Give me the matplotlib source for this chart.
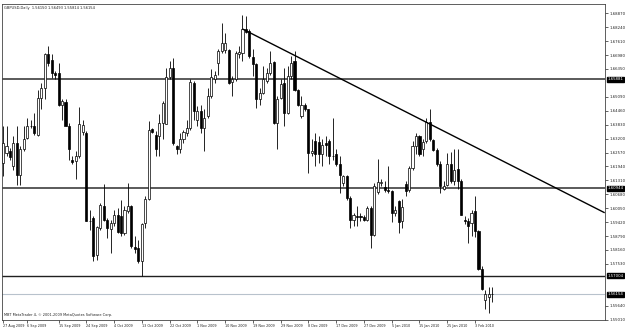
import matplotlib
matplotlib.use("Agg")
import matplotlib.pyplot as plt
import matplotlib.transforms as mtransforms
import numpy as np

# GBPUSD daily candles
opens = [1.6210, 1.6255, 1.6263, 1.6195, 1.6298, 1.6157, 1.6271, 1.6323, 1.6379, 1.6379,
         1.6338, 1.6505, 1.6550, 1.6701, 1.6675, 1.6615, 1.6618, 1.6470, 1.6485, 1.6379,
         1.6222, 1.6218, 1.6240, 1.6349, 1.6346, 1.5949, 1.5961, 1.5795, 1.5916, 1.6017,
         1.5953, 1.5911, 1.5938, 1.5976, 1.5969, 1.5893, 1.5991, 1.6014, 1.5830, 1.5825,
         1.5765, 1.5938, 1.6047, 1.6364, 1.6338, 1.6331, 1.6391, 1.6388, 1.6600, 1.6640,
         1.6286, 1.6274, 1.6319, 1.6346, 1.6369, 1.6573, 1.6406, 1.6444, 1.6369, 1.6422,
         1.6512, 1.6588, 1.6663, 1.6716, 1.6720, 1.6720, 1.6576, 1.6588, 1.6705, 1.6708,
         1.6817, 1.6807, 1.6690, 1.6656, 1.6497, 1.6527, 1.6580, 1.6618, 1.6666, 1.6391,
         1.6505, 1.6573, 1.6434, 1.6603, 1.6671, 1.6539, 1.6422, 1.6474, 1.6452, 1.6255,
         1.6308, 1.6304, 1.6248, 1.6301, 1.6308, 1.6243, 1.6248, 1.6203, 1.6120, 1.6150,
         1.6052, 1.5953, 1.5969, 1.5969, 1.5965, 1.5953, 1.6006, 1.5885, 1.6077, 1.6120,
         1.6101, 1.6089, 1.6082, 1.5984, 1.6036, 1.5946, 1.6116, 1.6086, 1.6187, 1.6286,
         1.6331, 1.6271, 1.6308, 1.6394, 1.6313, 1.6267, 1.6207, 1.6092, 1.6112, 1.6207,
         1.6127, 1.6183, 1.6127, 1.5953, 1.5946, 1.5938, 1.5991, 1.5901, 1.5730, 1.5591,
         1.5603, 1.56150]
highs = [1.6376, 1.6376, 1.6278, 1.6331, 1.6376, 1.6286, 1.6376, 1.6414, 1.6406, 1.6437,
         1.6542, 1.6573, 1.6708, 1.6739, 1.6701, 1.6625, 1.6663, 1.6497, 1.6497, 1.6391,
         1.6240, 1.6263, 1.6464, 1.6406, 1.6354, 1.5999, 1.5969, 1.5923, 1.6029, 1.6116,
         1.5961, 1.5953, 1.5999, 1.6006, 1.6044, 1.6014, 1.6120, 1.6021, 1.5878, 1.5863,
         1.5938, 1.6059, 1.6399, 1.6369, 1.6354, 1.6429, 1.6489, 1.6640, 1.6671, 1.6686,
         1.6293, 1.6346, 1.6361, 1.6406, 1.6588, 1.6580, 1.6467, 1.6474, 1.6452, 1.6550,
         1.6633, 1.6625, 1.6724, 1.6841, 1.6799, 1.6724, 1.6603, 1.6716, 1.6739, 1.6878,
         1.6875, 1.6814, 1.6724, 1.6663, 1.6550, 1.6648, 1.6640, 1.6716, 1.6671, 1.6512,
         1.6588, 1.6640, 1.6648, 1.6693, 1.6716, 1.6545, 1.6512, 1.6482, 1.6455, 1.6316,
         1.6346, 1.6331, 1.6316, 1.6331, 1.6316, 1.6414, 1.6274, 1.6240, 1.6157, 1.6157,
         1.6059, 1.5984, 1.6014, 1.5984, 1.5976, 1.6014, 1.6014, 1.6120, 1.6228, 1.6135,
         1.6127, 1.6195, 1.6089, 1.6014, 1.6044, 1.6047, 1.6127, 1.6195, 1.6308, 1.6346,
         1.6338, 1.6316, 1.6414, 1.6455, 1.6319, 1.6278, 1.6218, 1.6127, 1.6255, 1.6258,
         1.6271, 1.6271, 1.6135, 1.5969, 1.5961, 1.5999, 1.6062, 1.5908, 1.5742, 1.5636,
         1.5648, 1.56493]
lows = [1.6150, 1.6240, 1.6225, 1.6180, 1.6112, 1.6112, 1.6263, 1.6316, 1.6369, 1.6338,
        1.6331, 1.6452, 1.6497, 1.6648, 1.6595, 1.6588, 1.6467, 1.6406, 1.6376, 1.6225,
        1.6203, 1.6135, 1.6233, 1.6338, 1.5946, 1.5908, 1.5765, 1.5772, 1.5908, 1.5946,
        1.5870, 1.5802, 1.5923, 1.5893, 1.5878, 1.5885, 1.5984, 1.5825, 1.5802, 1.5757,
        1.5697, 1.5916, 1.6044, 1.6346, 1.6240, 1.6240, 1.6316, 1.6384, 1.6588, 1.6293,
        1.6248, 1.6255, 1.6301, 1.6331, 1.6361, 1.6406, 1.6376, 1.6346, 1.6263, 1.6414,
        1.6505, 1.6573, 1.6610, 1.6708, 1.6708, 1.6565, 1.6512, 1.6580, 1.6686, 1.6671,
        1.6799, 1.6686, 1.6603, 1.6459, 1.6470, 1.6520, 1.6573, 1.6610, 1.6388, 1.6271,
        1.6497, 1.6379, 1.6429, 1.6588, 1.6535, 1.6467, 1.6414, 1.6444, 1.6165, 1.6240,
        1.6195, 1.6210, 1.6195, 1.6240, 1.6203, 1.6225, 1.6195, 1.6074, 1.6104, 1.6044,
        1.5916, 1.5923, 1.5923, 1.5946, 1.5946, 1.5946, 1.5825, 1.5878, 1.6067, 1.6104,
        1.6077, 1.6074, 1.5941, 1.5969, 1.5893, 1.5916, 1.6059, 1.6077, 1.6180, 1.6248,
        1.6240, 1.6243, 1.6301, 1.6308, 1.6263, 1.6195, 1.6074, 1.6086, 1.6104, 1.6120,
        1.6112, 1.6092, 1.5972, 1.5935, 1.5848, 1.5878, 1.5875, 1.5727, 1.5636, 1.5549,
        1.5531, 1.55814]
closes = [1.6301, 1.6286, 1.6237, 1.6298, 1.6157, 1.6271, 1.6319, 1.6376, 1.6376, 1.6346,
          1.6505, 1.6550, 1.6701, 1.6663, 1.6615, 1.6606, 1.6470, 1.6489, 1.6379, 1.6271,
          1.6215, 1.6240, 1.6384, 1.6382, 1.5949, 1.5946, 1.5787, 1.5920, 1.6021, 1.5953,
          1.5916, 1.5938, 1.5976, 1.5896, 1.5893, 1.5996, 1.6014, 1.5836, 1.5821, 1.5765,
          1.5935, 1.6047, 1.6361, 1.6349, 1.6274, 1.6391, 1.6482, 1.6600, 1.6640, 1.6298,
          1.6275, 1.6319, 1.6349, 1.6369, 1.6576, 1.6444, 1.6444, 1.6369, 1.6414, 1.6512,
          1.6600, 1.6606, 1.6716, 1.6751, 1.6751, 1.6573, 1.6588, 1.6708, 1.6711, 1.6817,
          1.6804, 1.6693, 1.6656, 1.6497, 1.6527, 1.6588, 1.6618, 1.6663, 1.6391, 1.6497,
          1.6569, 1.6434, 1.6603, 1.6663, 1.6539, 1.6474, 1.6470, 1.6452, 1.6255, 1.6263,
          1.6252, 1.6252, 1.6293, 1.6289, 1.6240, 1.6240, 1.6203, 1.6157, 1.6150, 1.6052,
          1.5953, 1.5972, 1.5965, 1.5964, 1.5953, 1.6006, 1.5885, 1.6107, 1.6123, 1.6124,
          1.6086, 1.6083, 1.5984, 1.5999, 1.5941, 1.6011, 1.6082, 1.6187, 1.6286, 1.6331,
          1.6252, 1.6304, 1.6394, 1.6316, 1.6267, 1.6207, 1.6104, 1.6107, 1.6203, 1.6127,
          1.6180, 1.6127, 1.5976, 1.5946, 1.5923, 1.5984, 1.5901, 1.5730, 1.5639, 1.5618,
          1.5618, 1.56154]

date_labels = ["27 Aug 2009", "6 Sep 2009", "15 Sep 2009", "24 Sep 2009", "4 Oct 2009",
               "13 Oct 2009", "22 Oct 2009", "1 Nov 2009", "10 Nov 2009", "19 Nov 2009",
               "29 Nov 2009", "8 Dec 2009", "17 Dec 2009", "27 Dec 2009", "5 Jan 2010",
               "15 Jan 2010", "25 Jan 2010", "3 Feb 2010"]
date_bars = [0, 7, 16, 24, 32, 40, 48, 56, 64, 72, 80, 88, 96, 104, 112, 120, 128, 136]

price_ticks = [1.68870 - 0.0063 * k for k in range(23)]
levels = [1.65881, 1.60944, 1.57004]
bid = 1.56154
trend_bars = [69.2, 173.2]
trend_prices = [1.68145, 1.59857]

o = np.array(opens)
h = np.array(highs)
l = np.array(lows)
c = np.array(closes)
x = np.arange(len(o))

fig = plt.figure(figsize=(6.25, 3.29), dpi=100)
ax = fig.add_axes([0.0032, 0.027, 0.965, 0.96])

# wicks
ax.vlines(x, l, h, color="black", lw=0.6, zorder=3)
# bodies: white = up day, black = down day
up = c >= o
bottom = np.minimum(o, c)
height = np.maximum(np.abs(c - o), 0.00012)
ax.bar(x[up], height[up], bottom=bottom[up], width=0.6, color="white",
       edgecolor="black", linewidth=0.5, zorder=4)
ax.bar(x[~up], height[~up], bottom=bottom[~up], width=0.6, color="black",
       edgecolor="black", linewidth=0.5, zorder=4)

# horizontal levels
ax.axhline(levels[0], color="#5a5a5a", lw=1.4, zorder=2)
ax.axhline(levels[1], color="#5a5a5a", lw=1.4, zorder=2)
ax.axhline(levels[2], color="#202020", lw=1.0, zorder=2)
ax.axhline(bid, color="#b8c2cc", lw=0.8, zorder=2)

# trendline
ax.plot(trend_bars, trend_prices, color="black", lw=1.0, zorder=5)

ax.set_xlim(-0.3, 173.5)
ax.set_ylim(1.54985, 1.69278)

# price scale: labels hidden under the level boxes are left out
boxed = levels + [bid]
shown = [p for p in price_ticks if min(abs(p - b) for b in boxed) > 0.0025]
ax.yaxis.tick_right()
ax.set_yticks(shown)
ax.set_yticklabels([f"{p:.5f}" for p in shown])
ax.tick_params(axis="y", labelsize=2.8, length=2, width=0.5, pad=1, colors="#222222")
ax.set_xticks(date_bars)
ax.set_xticklabels(date_labels, ha="left")
ax.tick_params(axis="x", labelsize=2.4, length=2, width=0.5, pad=0.5, colors="#222222")
for sp in ax.spines.values():
    sp.set_color("#444444")
    sp.set_linewidth(0.6)

trans = mtransforms.blended_transform_factory(ax.transAxes, ax.transData)
for p in boxed:
    ax.text(1.004, p, f"{p:.5f}", transform=trans, fontsize=2.8, color="white",
            va="center", ha="left", clip_on=False, zorder=10,
            bbox=dict(boxstyle="square,pad=0.2", fc="black", ec="black"))

ax.text(0.004, 0.994, "GBPUSD,Daily  1.56150 1.56493 1.55814 1.56154", transform=ax.transAxes,
        fontsize=2.65, va="top", ha="left", color="#222222")
ax.text(0.004, 0.01, "MBT MetaTrader 4, \u00a9 2001-2009 MetaQuotes Software Corp.",
        transform=ax.transAxes, fontsize=2.5, va="bottom", ha="left", color="#222222")

fig.savefig("out.png", dpi=100, facecolor="white")
